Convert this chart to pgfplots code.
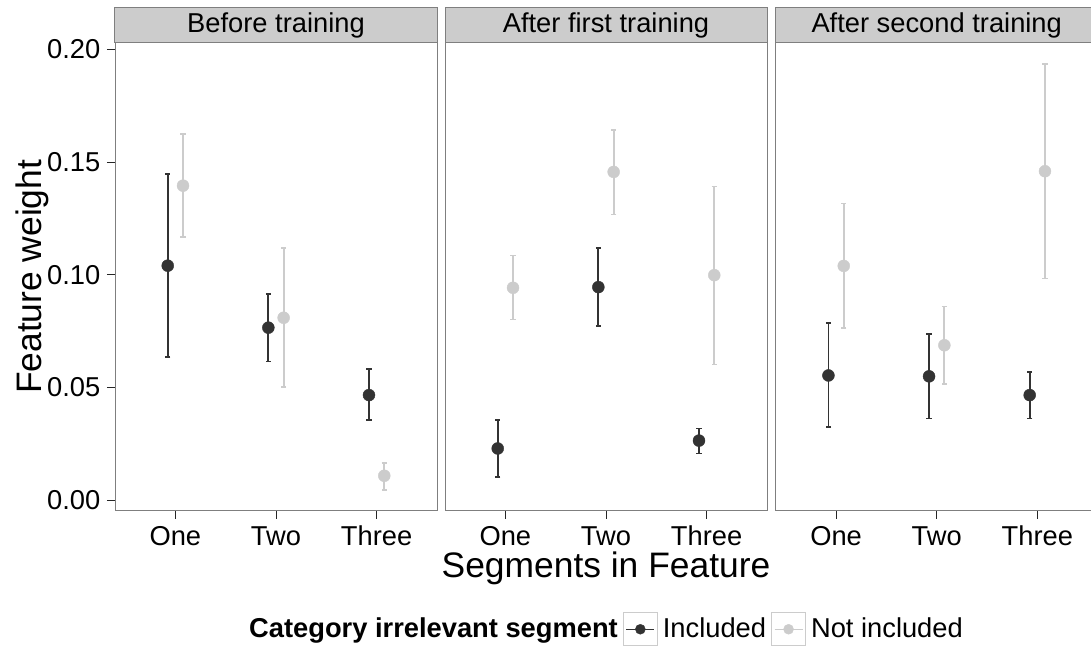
\documentclass[border=0pt]{standalone}
\usepackage{pgfplots}
\usepackage{pgfplotstable}
\pgfplotsset{compat=1.18}
\usepackage{fontspec}
\setmainfont{Liberation Sans}
\definecolor{dark}{HTML}{333333}
\definecolor{light}{HTML}{CCCCCC}
\definecolor{stripfill}{HTML}{CCCCCC}
\definecolor{border}{HTML}{7F7F7F}
\newcommand{\ticksz}{\fontsize{27.3}{31}\selectfont}
\newcommand{\titlesz}{\fontsize{35.4}{40}\selectfont}

% x y (error plus) (error minus)
\pgfplotstableread{
x y ep em
0.924 0.1040 0.0408 0.0404
1.924 0.0765 0.0151 0.0150
2.924 0.0466 0.0115 0.0110
}\BeforeIncl
\pgfplotstableread{
x y ep em
1.076 0.1395 0.0231 0.0229
2.076 0.0809 0.0309 0.0307
3.076 0.0108 0.0058 0.0064
}\BeforeNot
\pgfplotstableread{
x y ep em
0.924 0.0229 0.0125 0.0125
1.924 0.0945 0.0174 0.0173
2.924 0.0264 0.0054 0.0057
}\FirstIncl
\pgfplotstableread{
x y ep em
1.076 0.0942 0.0143 0.0141
2.076 0.1456 0.0187 0.0189
3.076 0.0998 0.0393 0.0396
}\FirstNot
\pgfplotstableread{
x y ep em
0.924 0.0553 0.0233 0.0230
1.924 0.0549 0.0189 0.0187
2.924 0.0466 0.0104 0.0104
}\SecondIncl
\pgfplotstableread{
x y ep em
1.076 0.1039 0.0277 0.0277
2.076 0.0687 0.0172 0.0173
3.076 0.1459 0.0476 0.0476
}\SecondNot

\pgfplotsset{
  panel/.style={
    scale only axis, width=322pt, height=467.7pt,
    anchor=south west,
    xmin=0.4, xmax=3.6, ymin=-0.0047, ymax=0.2028,
    axis line style={draw=border, line width=1pt},
    xtick={1,2,3}, xticklabels={One,Two,Three},
    ytick=\empty,
    tick align=outside, major tick length=8pt,
    tick style={color=black!85, line width=1pt},
    xtick pos=bottom, ytick pos=left,
    /pgf/number format/assume math mode=true,
    tick label style={font=\ticksz, inner sep=0pt},
    xticklabel style={yshift=-7pt, text height=19.6pt, text depth=0pt},
    yticklabel style={xshift=-6.5pt},
    clip=false,
    every axis title shift=0pt,
    title style={at={(0.5,1)}, anchor=south, fill=stripfill, draw=border,
      line width=1pt, minimum width=322pt, minimum height=35pt,
      inner sep=0pt, outer sep=0pt, font=\ticksz},
  },
  incl/.style={forget plot, color=dark, mark=*, mark size=6pt, only marks,
    mark options={fill=dark, draw=dark, line width=0.4pt},
    error bars/.cd, y dir=both, y explicit,
    error bar style={line width=1.8pt, color=dark},
    error mark options={rotate=90, mark size=2.6pt, line width=1.8pt, color=dark},
    /pgfplots/.cd},
  notincl/.style={forget plot, color=light, mark=*, mark size=6pt, only marks,
    mark options={fill=light, draw=light, line width=0.4pt},
    error bars/.cd, y dir=both, y explicit,
    error bar style={line width=1.8pt, color=light},
    error mark options={rotate=90, mark size=2.6pt, line width=1.8pt, color=light},
    /pgfplots/.cd},
}

\begin{document}
\begin{tikzpicture}
\useasboundingbox (0,0) rectangle (1091pt,647pt);

\begin{axis}[panel, at={(115pt,136.3pt)}, title={Before training},
  ytick={0,0.05,0.1,0.15,0.2}, yticklabels={0.00,0.05,0.10,0.15,0.20},
  ylabel={Feature weight},
  ylabel style={font=\titlesz, at={(axis description cs:-0.2578,0.5)}, anchor=center, inner sep=0pt},
]
\addplot[incl] table[x=x, y=y, y error plus=ep, y error minus=em] {\BeforeIncl};
\addplot[notincl] table[x=x, y=y, y error plus=ep, y error minus=em] {\BeforeNot};
\end{axis}

\begin{axis}[panel, at={(445pt,136.3pt)}, title={After first training},
  xlabel={Segments in Feature},
  xlabel style={font=\titlesz, at={(axis description cs:0.5,-0.1225)}, anchor=center, inner sep=0pt},
  legend columns=-1,
  legend style={draw=none, fill=none, at={(axis description cs:0.5,-0.2535)}, anchor=center,
    inner sep=0pt, column sep=0pt,
    nodes={font=\ticksz, inner xsep=5pt, inner ysep=0pt, anchor=base west}},
]
\addlegendimage{empty legend}
\addlegendentry{\textbf{Category irrelevant segment}}
\addlegendimage{legend image code/.code={
  \draw[draw=stripfill, line width=1pt, fill=white] (0pt,-8pt) rectangle (34pt,25pt);
  \draw[dark, line width=1.5pt] (3pt,8.5pt) -- (31pt,8.5pt);
  \fill[dark] (17pt,8.5pt) circle (5pt);}}
\addlegendentry{Included}
\addlegendimage{legend image code/.code={
  \draw[draw=stripfill, line width=1pt, fill=white] (0pt,-8pt) rectangle (34pt,25pt);
  \draw[light, line width=1.5pt] (3pt,8.5pt) -- (31pt,8.5pt);
  \fill[light] (17pt,8.5pt) circle (5pt);}}
\addlegendentry{Not included}
\addplot[incl] table[x=x, y=y, y error plus=ep, y error minus=em] {\FirstIncl};
\addplot[notincl] table[x=x, y=y, y error plus=ep, y error minus=em] {\FirstNot};
\end{axis}

\begin{axis}[panel, at={(775.7pt,136.3pt)}, title={After second training}]
\addplot[incl] table[x=x, y=y, y error plus=ep, y error minus=em] {\SecondIncl};
\addplot[notincl] table[x=x, y=y, y error plus=ep, y error minus=em] {\SecondNot};
\end{axis}
\end{tikzpicture}
\end{document}
